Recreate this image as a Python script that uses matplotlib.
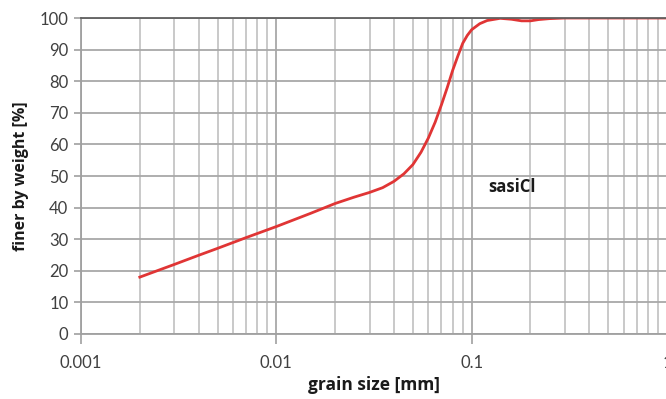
import numpy as np
import matplotlib
matplotlib.use("Agg")
import matplotlib.pyplot as plt
from matplotlib.ticker import LogLocator, FixedLocator, NullFormatter

# grain size distribution
grain_mm = [0.002, 0.003, 0.004, 0.005, 0.007, 0.01, 0.015, 0.02, 0.025, 0.03,
            0.035, 0.04, 0.045, 0.05, 0.055, 0.06, 0.065, 0.07, 0.075, 0.08,
            0.085, 0.09, 0.095, 0.1, 0.11, 0.12, 0.14, 0.16, 0.18, 0.2,
            0.22, 0.25, 0.3, 0.5, 1.0]
finer_pct = [18.0, 22.0, 24.9, 27.1, 30.5, 34.0, 38.2, 41.3, 43.3, 44.8,
             46.3, 48.3, 50.7, 53.6, 57.5, 62.0, 67.0, 72.5, 78.0, 83.5,
             88.0, 92.0, 94.5, 96.3, 98.2, 99.2, 99.9, 99.6, 99.1, 99.1,
             99.5, 99.8, 100.0, 100.0, 100.0]

x_ticks = [0.001, 0.01, 0.1, 1]
x_ticklabels = ["0.001", "0.01", "0.1", "1"]
y_ticks = list(range(0, 101, 10))
sample_name = "sasiCl"

plt.rcParams['font.family'] = ['Lato', 'DejaVu Sans']
label_font = ['Open Sans', 'DejaVu Sans']

fig = plt.figure(figsize=(6.66, 3.99), dpi=100)
ax = fig.add_axes([81 / 666, 65 / 399, 586 / 666, 316 / 399])

grid_col = "#c0c0c0"
text_col = "#404040"

ax.set_xscale("log")
ax.set_xlim(0.001, 1)
ax.set_ylim(0, 100)

ax.xaxis.set_major_locator(FixedLocator(x_ticks))
ax.set_xticklabels(x_ticklabels)
ax.xaxis.set_minor_locator(LogLocator(base=10, subs=np.arange(2, 10)))
ax.xaxis.set_minor_formatter(NullFormatter())
ax.set_yticks(y_ticks)

ax.grid(True, which="major", color="#a8a8a8", lw=1.3)
ax.grid(True, which="minor", axis="x", color=grid_col, lw=1.2)
ax.set_axisbelow(True)

ax.tick_params(axis="x", which="major", length=7, width=1.2, color="#a0a0a0",
               labelsize=12, labelcolor=text_col, pad=8)
ax.tick_params(axis="x", which="minor", length=0)
ax.tick_params(axis="y", length=5, width=1.2, color="#a0a0a0",
               labelsize=12, labelcolor=text_col, pad=4)

for side in ["left", "bottom"]:
    ax.spines[side].set_color("#a0a0a0")
    ax.spines[side].set_linewidth(1.3)
ax.spines["top"].set_color("#606060")
ax.spines["top"].set_linewidth(1.3)
ax.spines["right"].set_visible(False)

ax.plot(grain_mm, finer_pct, color="#e03535", lw=2.0, solid_joinstyle="round")

ax.text(0.16, 46.5, sample_name, fontsize=12, fontweight="bold",
        family=label_font, color="#1a1a1a", ha="center", va="center")

ax.set_xlabel("grain size [mm]", fontsize=12.5, fontweight="bold",
              family=label_font, color="#1a1a1a", labelpad=4)
ax.set_ylabel("finer by weight [%]", fontsize=11.5, fontweight="bold",
              family=label_font, color="#1a1a1a", labelpad=8)

fig.savefig("out.png", dpi=100)
